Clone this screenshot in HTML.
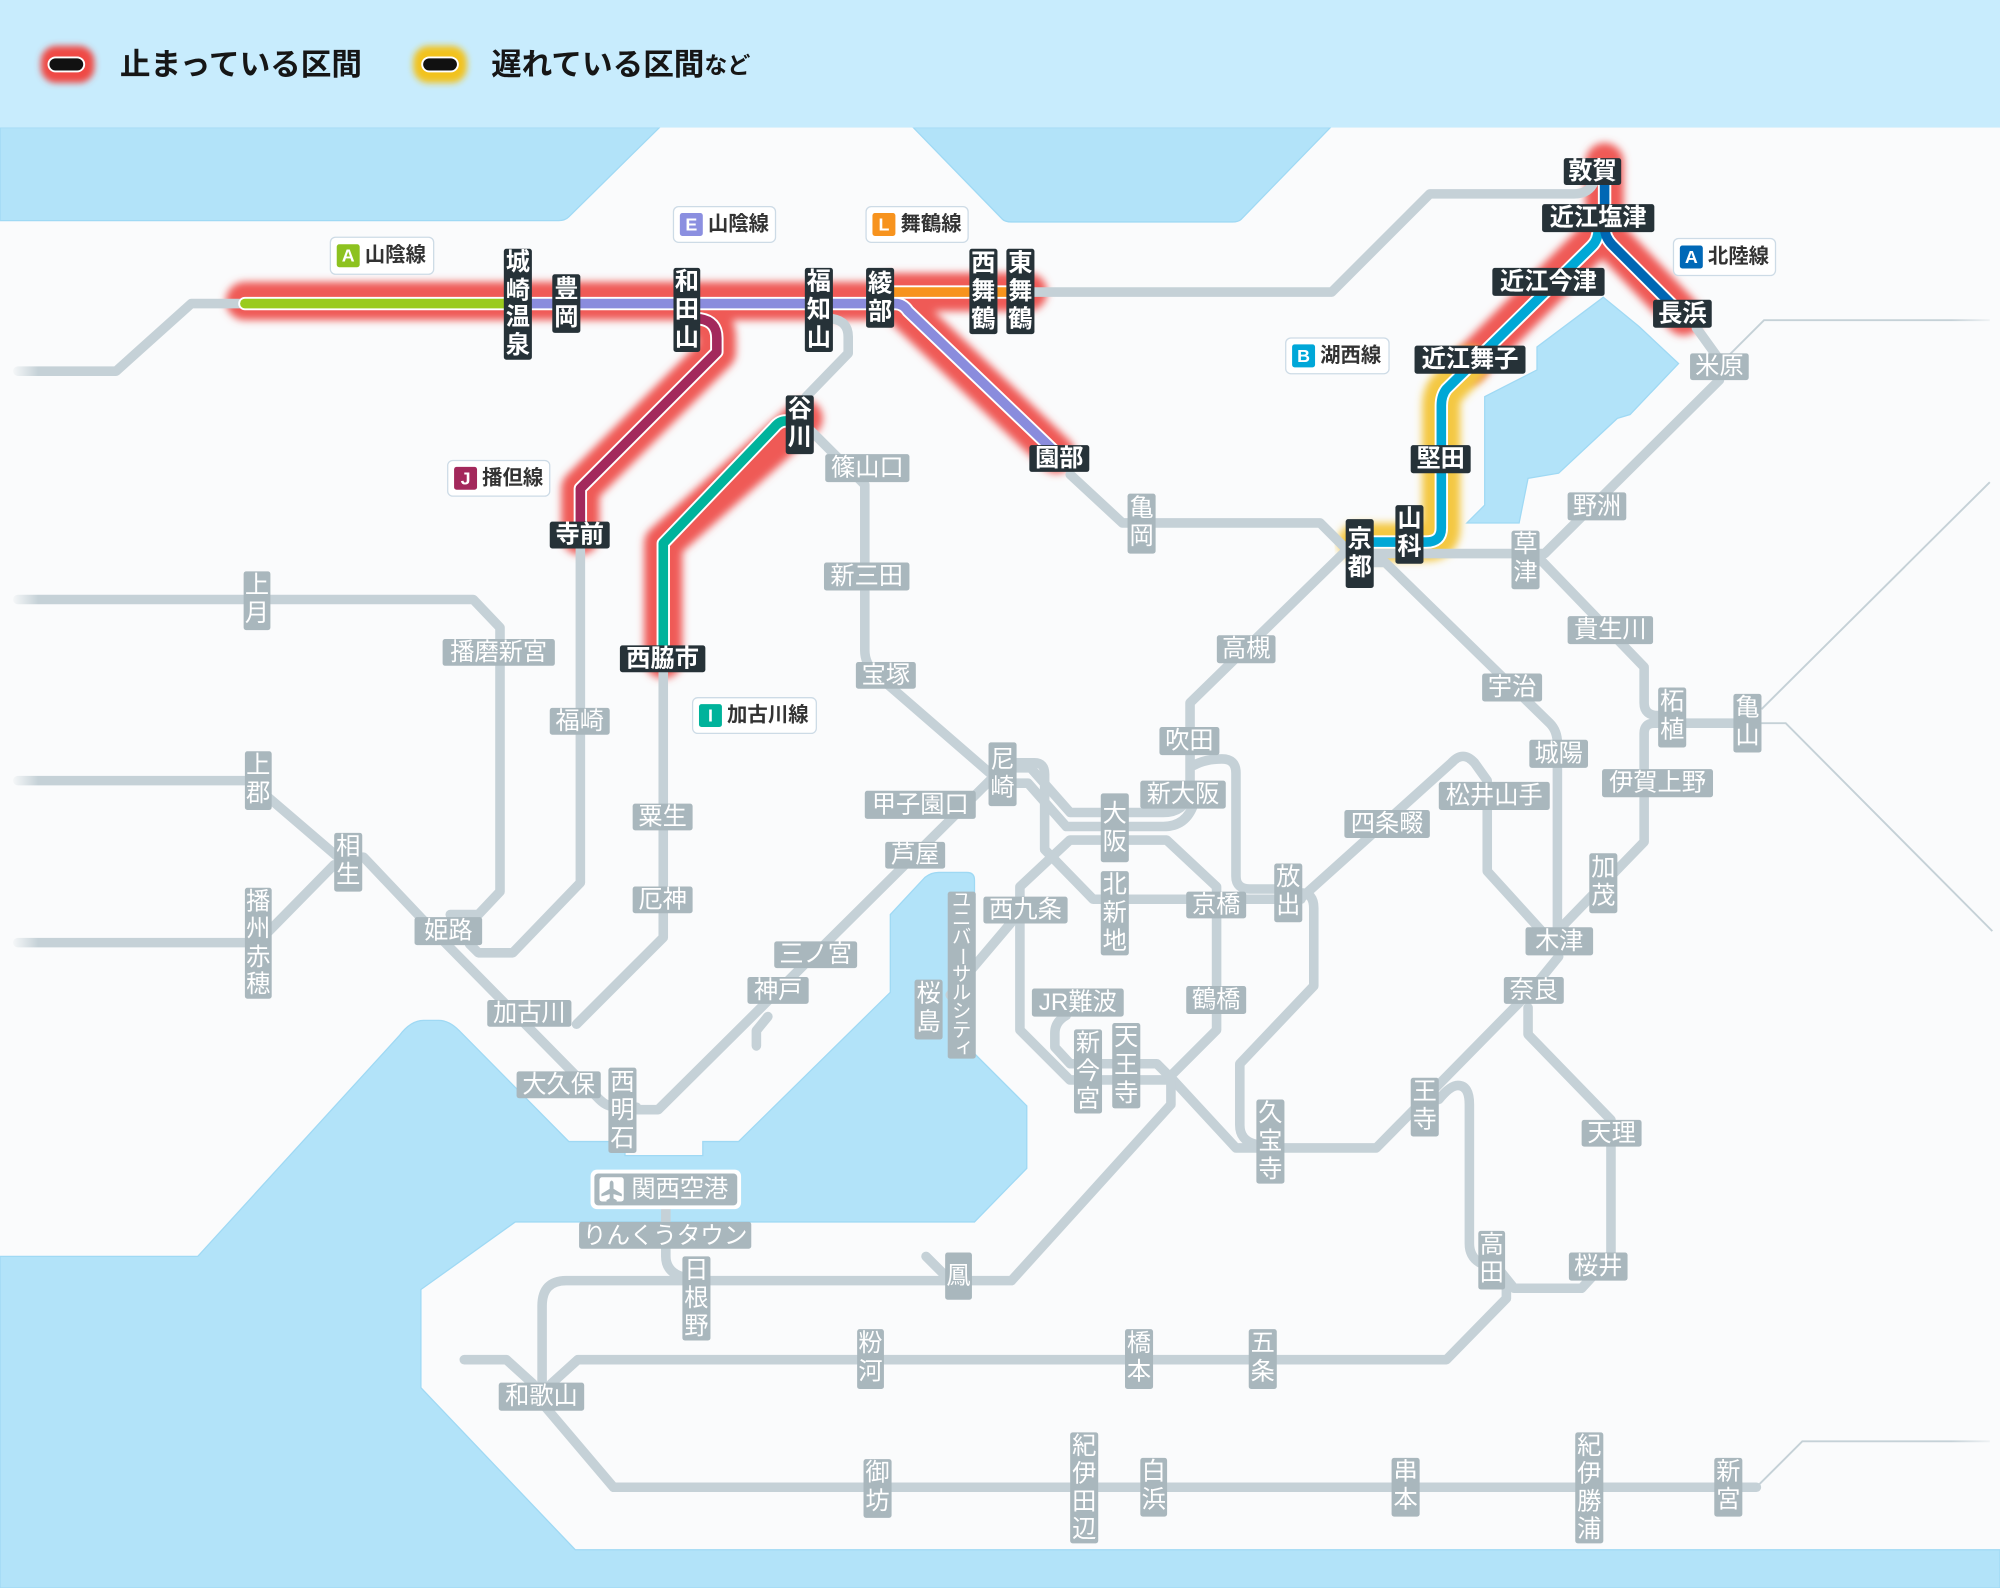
<!DOCTYPE html>
<html><head><meta charset="utf-8"><style>
html,body{margin:0;padding:0;background:#fafbfc;}
body{width:2000px;height:1588px;overflow:hidden;}
svg{display:block;font-family:"Liberation Sans","Noto Sans CJK JP",sans-serif;}
.g{fill:#a9b7bd}
.b{fill:#263238}
.t{fill:#fff;font-size:19px;text-anchor:middle;dominant-baseline:central;}
.tb{fill:#fff;font-size:19px;text-anchor:middle;dominant-baseline:central;font-weight:bold;}
.bd{fill:#fff;stroke:#cddbe6;stroke-width:1}
.bl{fill:#fff;font-size:14px;font-weight:bold;text-anchor:middle;dominant-baseline:central;}
.bt{fill:#333;font-size:16px;dominant-baseline:central;font-weight:bold;}
</style></head><body>
<svg width="2000" height="1588" viewBox="0 0 1568 1245" preserveAspectRatio="none" xmlns="http://www.w3.org/2000/svg">
<defs>
<filter id="bl" x="-20%" y="-20%" width="140%" height="140%"><feGaussianBlur stdDeviation="3.2"/></filter>
<filter id="bl2" x="-50%" y="-50%" width="200%" height="200%"><feGaussianBlur stdDeviation="2.5"/></filter>
<linearGradient id="fadeL" x1="0" x2="1" y1="0" y2="0"><stop offset="0" stop-color="#fafbfc" stop-opacity="1"/><stop offset="1" stop-color="#fafbfc" stop-opacity="0"/></linearGradient>
<linearGradient id="fadeR" x1="0" x2="1" y1="0" y2="0"><stop offset="0" stop-color="#fafbfc" stop-opacity="0"/><stop offset="1" stop-color="#fafbfc" stop-opacity="1"/></linearGradient>
</defs>
<rect x="0" y="0" width="1568" height="1245" fill="#fafbfc"/>
<!-- seas -->
<g fill="#b2e3f9" stroke="#9fd9f4" stroke-width="1">
<path d="M0,100 H517 L446,170 Q443,173 438,173 H0 Z"/>
<path d="M716,100 H1043 L973,172 Q971,174 966,174 H793 Q788,174 786,172 Z"/>
<path d="M1257,233 L1285,256 L1316,285 L1278,325 L1268,328 L1222,371 L1198,375 L1191,410 L1150,410 L1164,396 L1164,311 L1205,290 L1205,272 Z"/>
<path d="M0,985 H155 L313,812 Q322,800 332,800 H344 Q352,800 360,808 L446,895 H490 V906 H551 V895 H579 L698,778 V717 L725,688 Q730,684 736,684 H758 Q764,684 764,690 V826 L805,867 V916 L764,958 H404 L330,1011 V1088 L451,1215 H1568 V1245 H0 Z"/>
</g>
<!-- legend band -->
<rect x="0" y="0" width="1568" height="100" fill="#c8ecfd"/>
<!-- glows -->
<g fill="none" stroke="#ef5a56" stroke-width="30" stroke-linecap="round" stroke-linejoin="round" filter="url(#bl)">
<path d="M192,236 H702 L828,356"/>
<path d="M700,229 H806"/>
<path d="M549,250 Q562,252 562,265 V276 L455,383 V420"/>
<path d="M630,328 L520,426 V517"/>
<path d="M1258,127 V183 L1320,248"/>
<path d="M1255,183 L1152,286"/>
</g>
<g fill="none" stroke="#f4c843" stroke-width="30" stroke-linecap="round" stroke-linejoin="round" filter="url(#bl)">
<path d="M1152,286 L1134,305 Q1130,310 1130,318 V414 Q1130,425 1118,425 H1064"/>
</g>
<!-- gray lines -->
<g fill="none" stroke="#c5d1d7" stroke-width="7.5" stroke-linecap="round" stroke-linejoin="round">
<path d="M14,291 H91 L150,238 H192"/>
<path d="M806,229 H1044 L1121,152 H1234 Q1246,152 1250,142"/>
<path d="M653,250 Q665,252 665,264 V277 L632,311"/>
<path d="M636,338 L678,380 V510 Q678,520 686,528 L776,606"/>
<path d="M499,870 H516 L776,612"/>
<path d="M797,598 H811 Q819,598 819,607 V666 L857,705 H1020"/>
<path d="M797,602 H808 L839,637 H912 Q928,637 933,622"/>
<path d="M797,614 H806 L836,648 H912 Q930,648 936,630"/>
<path d="M933,630 V551 L1056,431"/>
<path d="M936,600 Q945,595 958,595 Q969,595 969,606 V687 Q969,697 980,697 H1010"/>
<path d="M838.8,658.6 H914.6 L953.8,695.2 V807.5 L914.6,846.7 H838.8 L799.6,807.5 V695.2 Z"/>
<path d="M836,796 Q827,801 827,810 V821 L839,834 H907 L920,847 L969,900 H1079 L1200,777 L1222,750"/>
<path d="M918,847 V866 L793,1004 H444 Q425,1004 425,1024 V1085"/>
<path d="M726,985 L742,1001"/>
<path d="M522,946 V985 Q522,997 535,1001"/>
<path d="M364,1066 H397 L418,1085"/>
<path d="M432,1085 L453,1066 H1134 L1181,1018 V1007"/>
<path d="M425,1085 V1100 L481,1166 H1377"/>
<path d="M1128,862 Q1137,851 1143,851 Q1152,851 1152,866 V975 Q1152,985 1160,990"/>
<path d="M1175,995 L1187,1010 H1240 L1263,985 V878 L1198,811 V790"/>
<path d="M1020,700 Q1030,700 1030,712 V773 L972,834 V882 Q972,894 984,897"/>
<path d="M1019,705 L1138,598 Q1147,588 1156,598 L1166,612 V683 L1216,738"/>
<path d="M1072,441 H1086 L1215,567 Q1221,573 1221,583 V738"/>
<path d="M1226,740 V725 L1289,660 V575 Q1289,567 1297,567 H1370"/>
<path d="M1207,438 L1289,523 V551 Q1289,561 1300,561"/>
<path d="M1077,434 H1211 L1348,298 V282 L1330,257"/>
<path d="M839,372 L880,410 H1035 L1054,429"/>
<path d="M14,470 H371 L392,492 V699 L375,717 H353"/>
<path d="M455,430 V692 L402,747 H375 L368,740"/>
<path d="M14,612 H195 L265,672 H285 L340,730 L470,862 Q476,868 484,868 H499"/>
<path d="M14,739 H202 L262,678"/>
<path d="M520,527 V735 L452,803"/>
<path d="M602,797 L593,808 V820"/>
<path d="M799,716 L760,762 L745,780"/>
</g>
<g fill="none" stroke="#c5d1d7" stroke-width="1.5">
<path d="M1352,282 L1383,251 H1560"/>
<path d="M1381,556 L1560,378"/>
<path d="M1381,567 H1400 L1562,730"/>
<path d="M1377,1166 L1413,1130 H1560"/>
</g>
<rect x="8" y="440" width="22" height="320" fill="url(#fadeL)"/>
<rect x="8" y="270" width="22" height="40" fill="url(#fadeL)"/>
<rect x="1530" y="240" width="38" height="22" fill="url(#fadeR)"/>
<rect x="1530" y="1120" width="38" height="22" fill="url(#fadeR)"/>
<!-- colored lines -->
<g fill="none" stroke="#fff" stroke-width="10.5" stroke-linecap="round" stroke-linejoin="round">
<path d="M192,238 H702 Q708,238 712,244 L828,355"/>
<path d="M700,229 H800"/>
<path d="M549,250 Q562,252 562,265 V276 L455,383 V409"/>
<path d="M616,330 Q611,330 607,335 L520,426 V506"/>
<path d="M1258,145 V178 Q1258,186 1264,192 L1318,246"/>
<path d="M1253,180 Q1253,188 1248,193 L1134,305 Q1130,310 1130,318 V414 Q1130,425 1118,425 H1066"/>
</g>
<g fill="none" stroke-width="7.5" stroke-linecap="round" stroke-linejoin="round">
<path d="M400,238 H702 Q708,238 712,244 L828,355" stroke="#8a8cdd"/>
<path d="M192,238 H400" stroke="#9acb1d"/>
<path d="M700,229 H800" stroke="#f7931d"/>
<path d="M549,250 Q562,252 562,265 V276 L455,383 V409" stroke="#a3295c"/>
<path d="M616,330 Q611,330 607,335 L520,426 V506" stroke="#00b39c"/>
<path d="M1253,180 Q1253,188 1248,193 L1134,305 Q1130,310 1130,318 V414 Q1130,425 1118,425 H1066" stroke="#00a8d6"/>
<path d="M1258,145 V178 Q1258,186 1264,192 L1318,246" stroke="#0067b4"/>
</g>
<!-- legend -->
<rect x="32" y="36" width="42" height="29" rx="12" fill="#ef4a44" filter="url(#bl2)"/>
<rect x="38" y="45" width="28" height="11" rx="5.5" fill="#111" stroke="#fff" stroke-width="1.5"/>
<text x="94" y="51" style="font-size:24px;font-weight:bold;fill:#161616;dominant-baseline:central">止まっている区間</text>
<rect x="324" y="36" width="42" height="29" rx="12" fill="#f2c21c" filter="url(#bl2)"/>
<rect x="331" y="45" width="28" height="11" rx="5.5" fill="#111" stroke="#fff" stroke-width="1.5"/>
<text x="385" y="51" style="font-size:24px;font-weight:bold;fill:#161616;dominant-baseline:central">遅れている区間<tspan style="font-size:18px">など</tspan></text>
<!-- badges -->
<rect class="bd" x="259" y="186" width="81" height="29" rx="4"/><rect x="264" y="191.5" width="18" height="18" rx="2" fill="#8dc21f"/><text class="bl" x="273" y="200.5">A</text><text class="bt" x="286" y="200.5">山陰線</text>
<rect class="bd" x="528" y="162" width="80" height="28" rx="4"/><rect x="533" y="167" width="18" height="18" rx="2" fill="#8b8fe0"/><text class="bl" x="542" y="176">E</text><text class="bt" x="555" y="176">山陰線</text>
<rect class="bd" x="679" y="162" width="80" height="28" rx="4"/><rect x="684" y="167" width="18" height="18" rx="2" fill="#f7931e"/><text class="bl" x="693" y="176">L</text><text class="bt" x="706" y="176">舞鶴線</text>
<rect class="bd" x="1008" y="265" width="81" height="28" rx="4"/><rect x="1013" y="270" width="18" height="18" rx="2" fill="#00a7d8"/><text class="bl" x="1022" y="279">B</text><text class="bt" x="1035" y="279">湖西線</text>
<rect class="bd" x="1312" y="187" width="80" height="29" rx="4"/><rect x="1317" y="192.5" width="18" height="18" rx="2" fill="#0068b7"/><text class="bl" x="1326" y="201.5">A</text><text class="bt" x="1339" y="201.5">北陸線</text>
<rect class="bd" x="351" y="361" width="80" height="28" rx="4"/><rect x="356" y="366" width="18" height="18" rx="2" fill="#a3285b"/><text class="bl" x="365" y="375">J</text><text class="bt" x="378" y="375">播但線</text>
<rect class="bd" x="543" y="547" width="97" height="28" rx="4"/><rect x="548" y="552" width="18" height="18" rx="2" fill="#00b39b"/><text class="bl" x="557" y="561">I</text><text class="bt" x="570" y="561">加古川線</text>
<!-- black labels -->
<g>
<rect class="b" x="395" y="195" width="22" height="87" rx="2"/><text class="tb" x="406" y="206">城</text><text class="tb" x="406" y="228">崎</text><text class="tb" x="406" y="249">温</text><text class="tb" x="406" y="271">泉</text>
<rect class="b" x="433" y="215" width="22" height="46" rx="2"/><text class="tb" x="444" y="227">豊</text><text class="tb" x="444" y="249">岡</text>
<rect class="b" x="528" y="210" width="21" height="66" rx="2"/><text class="tb" x="538.5" y="221">和</text><text class="tb" x="538.5" y="243">田</text><text class="tb" x="538.5" y="265">山</text>
<rect class="b" x="631" y="210" width="22" height="66" rx="2"/><text class="tb" x="642" y="221">福</text><text class="tb" x="642" y="243">知</text><text class="tb" x="642" y="265">山</text>
<rect class="b" x="679" y="210" width="22" height="47" rx="2"/><text class="tb" x="690" y="222.5">綾</text><text class="tb" x="690" y="244.5">部</text>
<rect class="b" x="760" y="195" width="22" height="67" rx="2"/><text class="tb" x="771" y="206.5">西</text><text class="tb" x="771" y="228.5">舞</text><text class="tb" x="771" y="250.5">鶴</text>
<rect class="b" x="789" y="195" width="22" height="67" rx="2"/><text class="tb" x="800" y="206.5">東</text><text class="tb" x="800" y="228.5">舞</text><text class="tb" x="800" y="250.5">鶴</text>
<rect class="b" x="616" y="310" width="22" height="46" rx="2"/><text class="tb" x="627" y="321">谷</text><text class="tb" x="627" y="343">川</text>
<rect class="b" x="807" y="349" width="47" height="21" rx="2"/><text class="tb" x="830.5" y="359.5">園部</text>
<rect class="b" x="431" y="409" width="47" height="21" rx="2"/><text class="tb" x="454.5" y="419.5">寺前</text>
<rect class="b" x="486" y="506" width="67" height="21" rx="2"/><text class="tb" x="519.5" y="516.5">西脇市</text>
<rect class="b" x="1226" y="124" width="45" height="21" rx="2"/><text class="tb" x="1248.5" y="134.5">敦賀</text>
<rect class="b" x="1209" y="160" width="88" height="22" rx="2"/><text class="tb" x="1253" y="171">近江塩津</text>
<rect class="b" x="1170" y="210" width="88" height="22" rx="2"/><text class="tb" x="1214" y="221">近江今津</text>
<rect class="b" x="1296" y="235" width="46" height="22" rx="2"/><text class="tb" x="1319" y="246">長浜</text>
<rect class="b" x="1109" y="271" width="87" height="22" rx="2"/><text class="tb" x="1152.5" y="282">近江舞子</text>
<rect class="b" x="1106" y="349" width="47" height="22" rx="2"/><text class="tb" x="1129.5" y="360">堅田</text>
<rect class="b" x="1094" y="396" width="22" height="46" rx="2"/><text class="tb" x="1105" y="407">山</text><text class="tb" x="1105" y="429">科</text>
<rect class="b" x="1055" y="407" width="22" height="54" rx="2"/><text class="tb" x="1066" y="423">京</text><text class="tb" x="1066" y="445">都</text>
</g>
<!-- gray labels -->
<g>
<rect class="g" x="647" y="356" width="66" height="22" rx="2"/><text class="t" x="680" y="367">篠山口</text>
<rect class="g" x="646" y="441" width="67" height="22" rx="2"/><text class="t" x="679.5" y="452">新三田</text>
<rect class="g" x="884" y="387" width="22" height="47" rx="2"/><text class="t" x="895" y="398.5">亀</text><text class="t" x="895" y="420.5">岡</text>
<rect class="g" x="1325" y="277" width="46" height="21" rx="2"/><text class="t" x="1348" y="287.5">米原</text>
<rect class="g" x="1229" y="386" width="46" height="22" rx="2"/><text class="t" x="1252" y="397">野洲</text>
<rect class="g" x="1185" y="416" width="22" height="46" rx="2"/><text class="t" x="1196" y="427">草</text><text class="t" x="1196" y="449">津</text>
<rect class="g" x="191" y="448" width="21" height="46" rx="2"/><text class="t" x="201.5" y="459">上</text><text class="t" x="201.5" y="481">月</text>
<rect class="g" x="347" y="501" width="88" height="21" rx="2"/><text class="t" x="391" y="511.5">播磨新宮</text>
<rect class="g" x="431" y="555" width="47" height="21" rx="2"/><text class="t" x="454.5" y="565.5">福崎</text>
<rect class="g" x="192" y="589" width="21" height="46" rx="2"/><text class="t" x="202.5" y="600">上</text><text class="t" x="202.5" y="622">郡</text>
<rect class="g" x="262" y="653" width="22" height="46" rx="2"/><text class="t" x="273" y="664">相</text><text class="t" x="273" y="686">生</text>
<rect class="g" x="192" y="696" width="21" height="87" rx="2"/><text class="t" x="202.5" y="707">播</text><text class="t" x="202.5" y="728.5">州</text><text class="t" x="202.5" y="750.5">赤</text><text class="t" x="202.5" y="772">穂</text>
<rect class="g" x="325" y="719" width="53" height="22" rx="2"/><text class="t" x="351.5" y="730">姫路</text>
<rect class="g" x="382" y="784" width="66" height="21" rx="2"/><text class="t" x="415" y="794.5">加古川</text>
<rect class="g" x="496" y="630" width="47" height="21" rx="2"/><text class="t" x="519.5" y="640.5">粟生</text>
<rect class="g" x="496" y="695" width="47" height="21" rx="2"/><text class="t" x="519.5" y="705.5">厄神</text>
<rect class="g" x="671" y="519" width="47" height="21" rx="2"/><text class="t" x="694.5" y="529.5">宝塚</text>
<rect class="g" x="775" y="582" width="22" height="50" rx="2"/><text class="t" x="786" y="596">尼</text><text class="t" x="786" y="618">崎</text>
<rect class="g" x="678" y="620" width="87" height="22" rx="2"/><text class="t" x="721.5" y="631">甲子園口</text>
<rect class="g" x="694" y="660" width="47" height="21" rx="2"/><text class="t" x="717.5" y="670.5">芦屋</text>
<rect class="g" x="607" y="738" width="65" height="21" rx="2"/><text class="t" x="639.5" y="748.5">三ノ宮</text>
<rect class="g" x="586" y="766" width="48" height="21" rx="2"/><text class="t" x="610" y="776.5">神戸</text>
<rect class="g" x="743" y="699" width="22" height="131" rx="2"/>
<g style="font-size:15px" fill="#fff" text-anchor="middle"><text x="754" y="706.3" dominant-baseline="central">ユ</text><text x="754" y="720.8" dominant-baseline="central">ニ</text><text x="754" y="735.4" dominant-baseline="central">バ</text><text x="754" y="749.9" dominant-baseline="central" transform="rotate(90 754 749.9)">ー</text><text x="754" y="764.5" dominant-baseline="central">サ</text><text x="754" y="779.1" dominant-baseline="central">ル</text><text x="754" y="793.6" dominant-baseline="central">シ</text><text x="754" y="808.2" dominant-baseline="central">テ</text><text x="756" y="821" dominant-baseline="central">ィ</text></g>
<rect class="g" x="717" y="768" width="22" height="47" rx="2"/><text class="t" x="728" y="779.5">桜</text><text class="t" x="728" y="801.5">島</text>
<rect class="g" x="771" y="703" width="66" height="21" rx="2"/><text class="t" x="804" y="713.5">西九条</text>
<rect class="g" x="954" y="498" width="46" height="22" rx="2"/><text class="t" x="977" y="509">高槻</text>
<rect class="g" x="909" y="570" width="47" height="22" rx="2"/><text class="t" x="932.5" y="581">吹田</text>
<rect class="g" x="894" y="612" width="67" height="22" rx="2"/><text class="t" x="927.5" y="623">新大阪</text>
<rect class="g" x="863" y="622" width="22" height="54" rx="2"/><text class="t" x="874" y="638">大</text><text class="t" x="874" y="660">阪</text>
<rect class="g" x="863" y="683" width="22" height="66" rx="2"/><text class="t" x="874" y="694">北</text><text class="t" x="874" y="716">新</text><text class="t" x="874" y="738">地</text>
<rect class="g" x="930" y="699" width="47" height="21" rx="2"/><text class="t" x="953.5" y="709.5">京橋</text>
<rect class="g" x="999" y="677" width="22" height="46" rx="2"/><text class="t" x="1010" y="688">放</text><text class="t" x="1010" y="710">出</text>
<rect class="g" x="809" y="775" width="72" height="22" rx="2"/><text class="t" x="845" y="786">JR難波</text>
<rect class="g" x="930" y="773" width="47" height="22" rx="2"/><text class="t" x="953.5" y="784">鶴橋</text>
<rect class="g" x="842" y="807" width="22" height="66" rx="2"/><text class="t" x="853" y="818">新</text><text class="t" x="853" y="840">今</text><text class="t" x="853" y="862">宮</text>
<rect class="g" x="872" y="802" width="22" height="67" rx="2"/><text class="t" x="883" y="813.5">天</text><text class="t" x="883" y="835.5">王</text><text class="t" x="883" y="857.5">寺</text>
<rect class="g" x="985" y="862" width="22" height="66" rx="2"/><text class="t" x="996" y="873">久</text><text class="t" x="996" y="895">宝</text><text class="t" x="996" y="917">寺</text>
<rect class="g" x="1106" y="845" width="22" height="46" rx="2"/><text class="t" x="1117" y="856">王</text><text class="t" x="1117" y="878">寺</text>
<rect class="g" x="1240" y="878" width="47" height="21" rx="2"/><text class="t" x="1263.5" y="888.5">天理</text>
<rect class="g" x="1159" y="965" width="21" height="46" rx="2"/><text class="t" x="1169.5" y="976">高</text><text class="t" x="1169.5" y="998">田</text>
<rect class="g" x="1230" y="982" width="46" height="22" rx="2"/><text class="t" x="1253" y="993">桜井</text>
<rect class="g" x="882" y="1042" width="22" height="47" rx="2"/><text class="t" x="893" y="1053.5">橋</text><text class="t" x="893" y="1075.5">本</text>
<rect class="g" x="979" y="1042" width="22" height="47" rx="2"/><text class="t" x="990" y="1053.5">五</text><text class="t" x="990" y="1075.5">条</text>
<rect class="g" x="839" y="1123" width="22" height="87" rx="2"/><text class="t" x="850" y="1134">紀</text><text class="t" x="850" y="1155.5">伊</text><text class="t" x="850" y="1177.5">田</text><text class="t" x="850" y="1199">辺</text>
<rect class="g" x="894" y="1143" width="21" height="46" rx="2"/><text class="t" x="904.5" y="1154">白</text><text class="t" x="904.5" y="1176">浜</text>
<rect class="g" x="1091" y="1143" width="22" height="46" rx="2"/><text class="t" x="1102" y="1154">串</text><text class="t" x="1102" y="1176">本</text>
<rect class="g" x="1235" y="1123" width="22" height="87" rx="2"/><text class="t" x="1246" y="1134">紀</text><text class="t" x="1246" y="1155.5">伊</text><text class="t" x="1246" y="1177.5">勝</text><text class="t" x="1246" y="1199">浦</text>
<rect class="g" x="1344" y="1143" width="22" height="46" rx="2"/><text class="t" x="1355" y="1154">新</text><text class="t" x="1355" y="1176">宮</text>
<rect class="g" x="1162" y="528" width="47" height="22" rx="2"/><text class="t" x="1185.5" y="539">宇治</text>
<rect class="g" x="1229" y="483" width="67" height="22" rx="2"/><text class="t" x="1262.5" y="494">貴生川</text>
<rect class="g" x="1199" y="580" width="46" height="22" rx="2"/><text class="t" x="1222" y="591">城陽</text>
<rect class="g" x="1128" y="613" width="87" height="22" rx="2"/><text class="t" x="1171.5" y="624">松井山手</text>
<rect class="g" x="1054" y="635" width="67" height="22" rx="2"/><text class="t" x="1087.5" y="646">四条畷</text>
<rect class="g" x="1300" y="539" width="22" height="47" rx="2"/><text class="t" x="1311" y="550.5">柘</text><text class="t" x="1311" y="572.5">植</text>
<rect class="g" x="1359" y="544" width="22" height="46" rx="2"/><text class="t" x="1370" y="555">亀</text><text class="t" x="1370" y="577">山</text>
<rect class="g" x="1256" y="603" width="87" height="22" rx="2"/><text class="t" x="1299.5" y="614">伊賀上野</text>
<rect class="g" x="1246" y="669" width="22" height="47" rx="2"/><text class="t" x="1257" y="680.5">加</text><text class="t" x="1257" y="702.5">茂</text>
<rect class="g" x="1196" y="727" width="53" height="22" rx="2"/><text class="t" x="1222.5" y="738">木津</text>
<rect class="g" x="1179" y="766" width="47" height="21" rx="2"/><text class="t" x="1202.5" y="776.5">奈良</text>
<rect class="g" x="405" y="840" width="66" height="21" rx="2"/><text class="t" x="438" y="850.5">大久保</text>
<rect class="g" x="477" y="837" width="22" height="67" rx="2"/><text class="t" x="488" y="848.5">西</text><text class="t" x="488" y="870.5">明</text><text class="t" x="488" y="892.5">石</text>
<rect x="463" y="917" width="118" height="31" rx="5" fill="#fff"/>
<rect class="g" x="466" y="920" width="112" height="25" rx="3"/>
<rect x="470" y="923" width="19" height="19" rx="2" fill="#fff"/>
<path d="M479.5,925.5 Q481,926 481,928 V932 L487.5,936 V938 L481,936.2 V939.5 L483.5,941 V942 H475.5 V941 L478,939.5 V936.2 L471.5,938 V936 L478,932 V928 Q478,926 479.5,925.5 Z" fill="#a9b7bd"/>
<text class="t" x="533" y="932.5">関西空港</text>
<rect class="g" x="454" y="958" width="135" height="21" rx="2"/><text class="t" x="521.5" y="968.5" style="font-size:18.5px">りんくうタウン</text>
<rect class="g" x="535" y="985" width="22" height="66" rx="2"/><text class="t" x="546" y="996">日</text><text class="t" x="546" y="1018">根</text><text class="t" x="546" y="1040">野</text>
<rect class="g" x="741" y="982" width="21" height="37" rx="2"/><text class="t" x="751.5" y="1000.5">鳳</text>
<rect class="g" x="672" y="1042" width="21" height="47" rx="2"/><text class="t" x="682.5" y="1053.5">粉</text><text class="t" x="682.5" y="1075.5">河</text>
<rect class="g" x="391" y="1084" width="67" height="22" rx="2"/><text class="t" x="424.5" y="1095">和歌山</text>
<rect class="g" x="677" y="1144" width="22" height="46" rx="2"/><text class="t" x="688" y="1155">御</text><text class="t" x="688" y="1177">坊</text>
</g>
</svg>
</body></html>
